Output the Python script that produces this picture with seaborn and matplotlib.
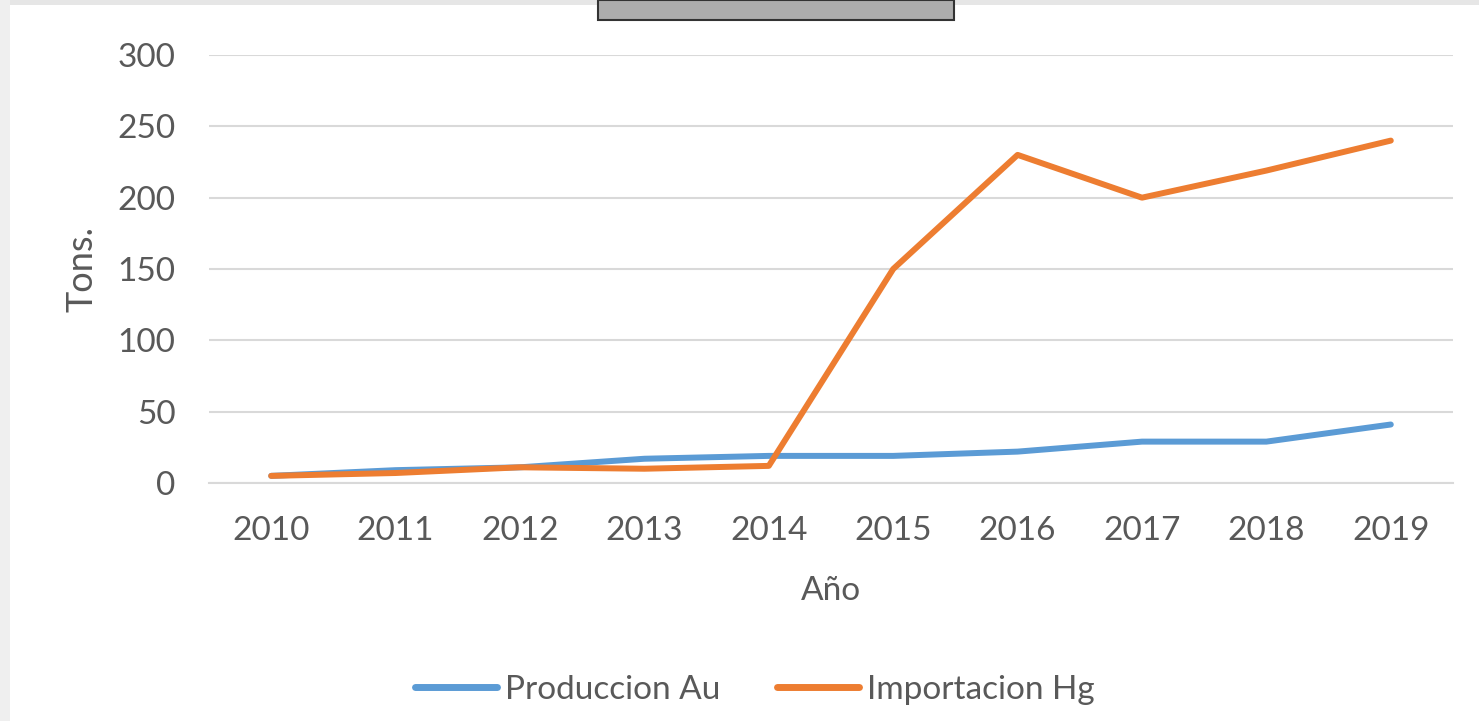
import matplotlib.pyplot as plt
import seaborn as sns
import pandas as pd
from matplotlib.patches import Rectangle

# data
years = ['2010', '2011', '2012', '2013', '2014', '2015', '2016', '2017', '2018', '2019']
produccion_au = [5, 9, 11, 17, 19, 19, 22, 29, 29, 41]
importacion_hg = [5, 7, 11, 10, 12, 150, 230, 200, 219, 240]
series_names = ['Produccion Au', 'Importacion Hg']
yticks = [0, 50, 100, 150, 200, 250, 300]

df = pd.DataFrame({
    'Año': years * 2,
    'Tons.': produccion_au + importacion_hg,
    'Serie': [series_names[0]] * len(years) + [series_names[1]] * len(years),
})

sns.set_theme(style="white")
plt.rcParams['font.family'] = ['Lato', 'DejaVu Sans']
text_color = '#595959'
colors = ['#5B9BD5', '#ED7D31']

fig = plt.figure(figsize=(14.79, 7.21), dpi=100)
ax = fig.add_axes([209 / 1479, 1 - 483 / 721, (1453 - 209) / 1479, (483 - 55) / 721])

sns.lineplot(data=df, x='Año', y='Tons.', hue='Serie', palette=colors,
             linewidth=4.3, ax=ax, legend=False, sort=False)

ax.set_xlim(-0.5, len(years) - 0.5)
ax.set_ylim(0, 300)
ax.set_yticks(yticks)
ax.yaxis.grid(True, color='#D9D9D9', linewidth=1.5)
ax.set_axisbelow(True)
for s in ['top', 'right', 'left']:
    ax.spines[s].set_visible(False)
ax.spines['bottom'].set_color('#D9D9D9')
ax.spines['bottom'].set_linewidth(1.5)
ax.tick_params(axis='both', length=0, labelsize=24, colors=text_color)
ax.tick_params(axis='y', pad=24)
ax.tick_params(axis='x', pad=24)
ax.set_xlabel('Año', fontsize=24, color=text_color, labelpad=21)
ax.set_ylabel('Tons.', fontsize=26, color=text_color, labelpad=14)

# Excel-style legend below the chart
handles = [plt.Line2D([], [], color=c, linewidth=5, solid_capstyle='round') for c in colors]
leg = fig.legend(handles, series_names, loc='center', bbox_to_anchor=(755 / 1479, 1 - 690 / 721),
                 ncol=2, frameon=False, fontsize=24, handlelength=2.45, columnspacing=1.7,
                 handletextpad=0.25)
for t in leg.get_texts():
    t.set_color(text_color)

# the grey box cut off at the top of the screenshot
fig.patches.append(Rectangle((598 / 1479, 1 - 20 / 721), 356 / 1479, 20 / 721,
                             transform=fig.transFigure, facecolor='#ADADAD',
                             edgecolor='#333333', linewidth=1.5))
fig.patches.append(Rectangle((0, 1 - 5 / 721), 1, 5 / 721, transform=fig.transFigure,
                             facecolor='#E6E6E6', edgecolor='none', zorder=0))
fig.patches.append(Rectangle((0, 0), 10 / 1479, 1, transform=fig.transFigure,
                             facecolor='#EFEFEF', edgecolor='none', zorder=0))

fig.savefig('out.png', dpi=100)
